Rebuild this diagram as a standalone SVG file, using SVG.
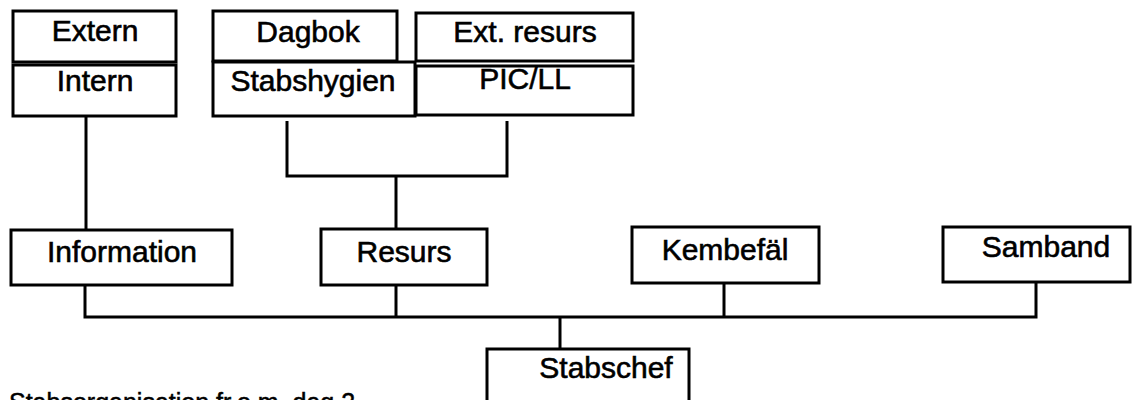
<svg xmlns="http://www.w3.org/2000/svg" width="1133" height="400" viewBox="0 0 1133 400">
<style>
.box{fill:#fff;stroke:#000;stroke-width:3}
.t{font-family:"Liberation Sans",Arial,sans-serif;font-size:30px;fill:#000;stroke:#000;stroke-width:0.6;text-anchor:middle}
.c{fill:none;stroke:#000;stroke-width:3}
</style>
<rect width="1133" height="400" fill="#fff"/>
<g id="connectors">
<path class="c" d="M86 116V230"/>
<path class="c" d="M287 121V176H507V121"/>
<path class="c" d="M396 176V229"/>
<path class="c" d="M85 285V317H1036V282"/>
<path class="c" d="M396 285V317"/>
<path class="c" d="M724 283V317"/>
<path class="c" d="M560 317V349"/>
</g>
<g id="extern"><rect class="box" x="13" y="11" width="163" height="51"/><text class="t" x="95" y="41">Extern</text></g>
<g id="intern"><rect class="box" x="13" y="65" width="163" height="51"/><text class="t" x="95" y="91">Intern</text></g>
<g id="dagbok"><rect class="box" x="213" y="11" width="184" height="50"/><text class="t" x="308" y="42">Dagbok</text></g>
<g id="stabshygien"><rect class="box" x="213" y="62" width="202" height="54"/><text class="t" x="313" y="91">Stabshygien</text></g>
<g id="extresurs"><rect class="box" x="416" y="13" width="217" height="48"/><text class="t" x="525" y="42">Ext. resurs</text></g>
<g id="picll"><rect class="box" x="416" y="66" width="217" height="49"/><text class="t" x="525" y="89">PIC/LL</text></g>
<g id="information"><rect class="box" x="11" y="230" width="221" height="55"/><text class="t" x="122" y="262">Information</text></g>
<g id="resurs"><rect class="box" x="321" y="229" width="166" height="56"/><text class="t" x="404" y="262">Resurs</text></g>
<g id="kembefal"><rect class="box" x="632" y="227" width="187" height="56"/><text class="t" x="725" y="260">Kembefäl</text></g>
<g id="samband"><rect class="box" x="943" y="227" width="187" height="55"/><text class="t" x="1046" y="257">Samband</text></g>
<g id="stabschef"><rect class="box" x="487" y="349" width="202" height="70"/><text class="t" x="606" y="378">Stabschef</text></g>
<text font-family="'Liberation Sans',Arial,sans-serif" font-size="25" stroke="#000" stroke-width="0.5" x="9" y="411">Stabsorganisation fr.o.m. dag 2</text>
</svg>
